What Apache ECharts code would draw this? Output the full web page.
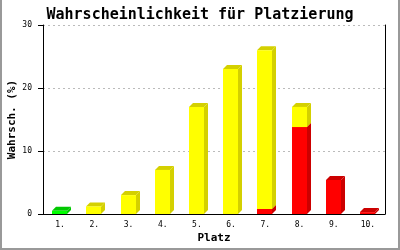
<!DOCTYPE html>
<html><head><meta charset="utf-8">
<script src="https://cdn.jsdelivr.net/npm/echarts@6/dist/echarts.min.js"></script>
<style>html,body{margin:0;padding:0;background:#fff}#c{width:400px;height:250px}</style>
</head><body><div id="c"></div>
<script>
const categories = ['1.','2.','3.','4.','5.','6.','7.','8.','9.','10.'];
const greenVals  = [0.5, 0, 0, 0, 0, 0, 0, 0, 0, 0];
const redVals    = [0, 0, 0, 0, 0, 0, 0.8, 13.8, 5.4, 0.3];
const yellowVals = [0, 1.2, 3.0, 7.0, 17.0, 23.0, 25.2, 3.2, 0, 0];
const yTicks = [0, 10, 20, 30];

const FONT = '"DejaVu Sans Mono", "Liberation Mono", monospace';

function seg(vals, bases) {
  return vals.map((v, i) => [i, bases ? bases[i] : 0, (bases ? bases[i] : 0) + v]);
}
function render3D(front, side) {
  return function (params, api) {
    const b = api.value(1), t = api.value(2);
    if (t <= b) return null;
    const p0 = api.coord([api.value(0), b]);
    const p1 = api.coord([api.value(0), t]);
    const cx = Math.round(p0[0]);
    const xl = cx - 8, xr = cx + 7, d = 4, dy = 4;
    const yb = p0[1], yt = p1[1];
    return {
      type: 'group',
      children: [
        { type: 'polygon', shape: { points: [[xr, yb], [xr + d, yb - dy], [xr + d, yt - dy], [xr, yt]] }, style: { fill: side } },
        { type: 'polygon', shape: { points: [[xl, yt], [xr, yt], [xr + d, yt - dy], [xl + d, yt - dy]] }, style: { fill: side } },
        { type: 'rect', shape: { x: xl, y: yt, width: xr - xl, height: yb - yt }, style: { fill: front } }
      ]
    };
  };
}

const chart = echarts.init(document.getElementById('c'), null, { renderer: 'canvas' });
chart.setOption({
  animation: false,
  backgroundColor: '#fff',
  title: {
    text: 'Wahrscheinlichkeit für Platzierung', left: 'center', top: 3,
    textStyle: { fontFamily: FONT, fontSize: 15, fontWeight: 'bold', color: '#000' }
  },
  grid: { left: 43, right: 15, top: 25, bottom: 36, containLabel: false, outerBoundsMode: 'none' },
  xAxis: {
    type: 'category', data: categories, boundaryGap: true,
    name: 'Platz', nameLocation: 'middle', nameGap: 19, nameMoveOverlap: false,
    nameTextStyle: { fontFamily: FONT, fontSize: 11, fontWeight: 'bold', color: '#000' },
    axisLine: { lineStyle: { color: '#000', width: 1 } },
    axisTick: { show: false },
    axisLabel: { fontFamily: FONT, fontSize: 8, color: '#000', margin: 7 },
    splitLine: { show: false }
  },
  yAxis: [{
    type: 'value', min: yTicks[0], max: yTicks[yTicks.length - 1], interval: 10,
    name: 'Wahrsch. (%)', nameLocation: 'middle', nameGap: 25, nameRotate: 90, nameMoveOverlap: false,
    nameTextStyle: { fontFamily: FONT, fontSize: 11, fontWeight: 'bold', color: '#000' },
    axisLine: { show: true, lineStyle: { color: '#000', width: 1 } },
    axisTick: { show: true, inside: false, length: 5, lineStyle: { color: '#000' } },
    axisLabel: { fontFamily: FONT, fontSize: 8, color: '#000', margin: 11 },
    splitLine: { show: true, lineStyle: { color: '#bbb', type: [2, 3] } }
  }, {
    type: 'value', position: 'right', min: 0, max: 30, interval: 10,
    axisLine: { show: true, onZero: false, lineStyle: { color: '#000', width: 1 } },
    axisTick: { show: false }, axisLabel: { show: false }, splitLine: { show: false }
  }],
  series: [
    { type: 'custom', renderItem: render3D('#00ff00', '#00c800'), data: seg(greenVals), encode: { x: 0, y: [1, 2] }, z: 3 },
    { type: 'custom', renderItem: render3D('#ff0000', '#cc0000'), data: seg(redVals), encode: { x: 0, y: [1, 2] }, z: 3 },
    { type: 'custom', renderItem: render3D('#ffff00', '#d4d000'), data: seg(yellowVals, redVals), encode: { x: 0, y: [1, 2] }, z: 4 }
  ],
  graphic: [
    { type: 'rect', shape: { x: 0, y: 0, width: 2, height: 250 }, style: { fill: '#999' } },
    { type: 'rect', shape: { x: 398, y: 0, width: 2, height: 250 }, style: { fill: '#999' } },
    { type: 'rect', shape: { x: 0, y: 248, width: 400, height: 2 }, style: { fill: '#999' } }
  ]
});
</script></body></html>
